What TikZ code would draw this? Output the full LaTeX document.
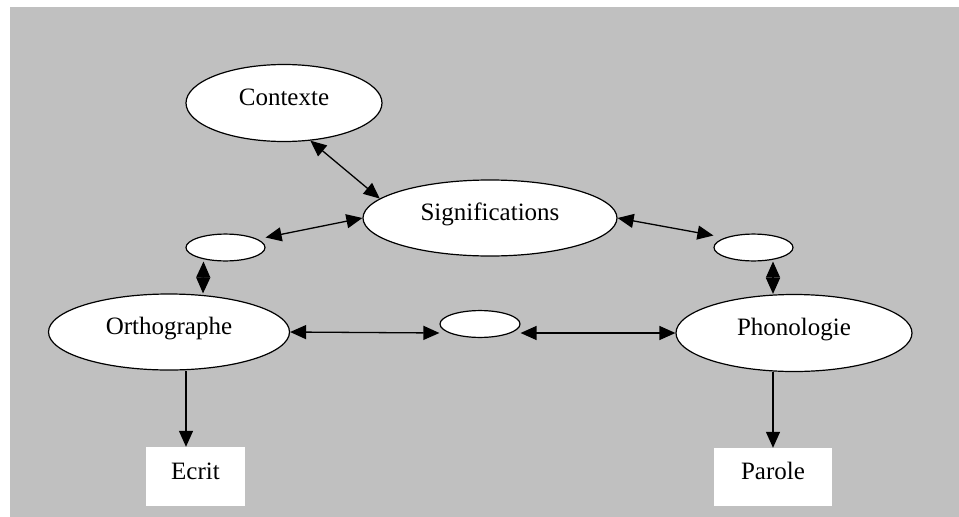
\documentclass[tikz,border=0pt]{standalone}
\usepackage{fontspec}
\setmainfont{Liberation Serif}
\usetikzlibrary{shapes.geometric,arrows.meta}
\definecolor{bggray}{HTML}{C0C0C0}
\begin{document}
\begin{tikzpicture}[x=1pt,y=-1pt,
  >={Triangle[length=16pt,width=14pt]},
  lbl/.style={font=\fontsize{25}{30}\selectfont, text height=12pt, text depth=7pt},
  oval/.style={lbl, ellipse, draw=black, fill=white, line width=1.2pt, inner sep=0pt},
  box/.style={lbl, rectangle, fill=white, inner sep=0pt},
  both/.style={line width=1.3pt, <->},
  one/.style={line width=1.3pt, ->}]
\useasboundingbox (0,0) rectangle (959,517);
\fill[white] (0,0) rectangle (959,517);
\fill[bggray] (10,7) rectangle (959,517);

\node[oval, minimum width=196pt, minimum height=77pt] (ctx) at (284,103) {Contexte};
\node[oval, minimum width=254pt, minimum height=76pt] (sig) at (490,218) {Significations};
\node[oval, minimum width=241pt, minimum height=76pt] (orth) at (169,332) {Orthographe};
\node[oval, minimum width=236pt, minimum height=77pt] (phon) at (794,333) {Phonologie};
\node[oval, minimum width=79pt, minimum height=19pt] (sL) at (225.5,247.5) {};
\node[oval, minimum width=79pt, minimum height=19pt] (sR) at (753.5,247.5) {};
\node[oval, minimum width=80pt, minimum height=20pt] (sM) at (480,324) {};
\node[box, minimum width=99pt, minimum height=59pt] (ecrit) at (195.5,476.5) {Ecrit};
\node[box, minimum width=118pt, minimum height=58pt] (parole) at (773,477) {Parole};

\draw[both] (ctx.-55) -- (sig.170);
\draw[both] ([yshift=10pt]sL.east) -- (sig.west);
\draw[both] (sig.east) -- ([yshift=12pt]sR.west);
\draw[both] ([xshift=-22pt]sL.south) -- ([xshift=34pt]orth.north);
\draw[both] ([xshift=19.5pt]sR.south) -- ([xshift=-21pt]phon.north);
\draw[both] (orth.east) -- ([yshift=-9pt]sM.west);
\draw[both] ([yshift=-9pt]sM.east) -- (phon.west);
\draw[one] ([xshift=17pt]orth.south) -- ([xshift=-9.5pt]ecrit.north);
\draw[one] ([xshift=-21pt]phon.south) -- (parole.north);
\end{tikzpicture}
\end{document}
